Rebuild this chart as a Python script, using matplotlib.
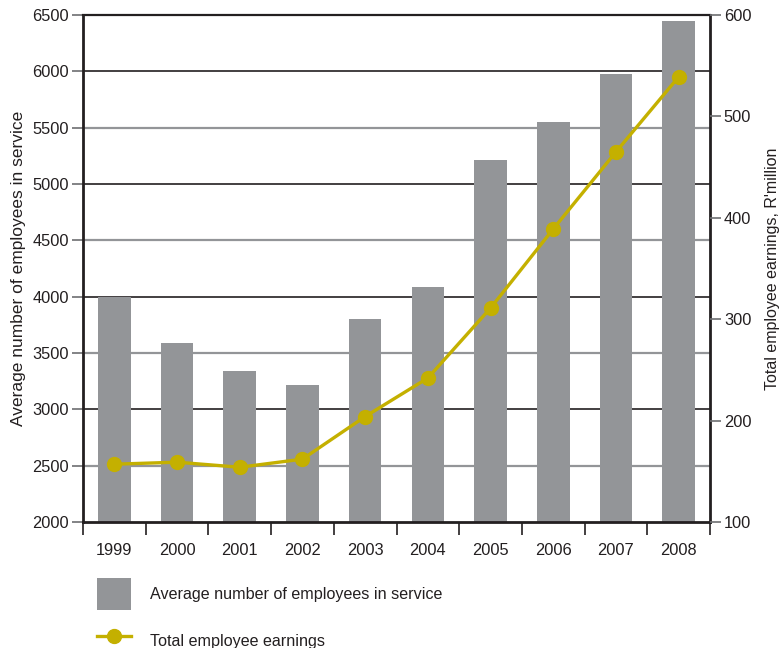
import matplotlib.pyplot as plt
import numpy as np

plt.rcParams['font.family'] = ['Liberation Sans', 'DejaVu Sans']

years = ['1999', '2000', '2001', '2002', '2003', '2004', '2005', '2006', '2007', '2008']
employees = [4000, 3590, 3340, 3215, 3800, 4085, 5210, 5550, 5975, 6445]
earnings = [157, 159, 154, 162, 204, 242, 311, 389, 465, 539]

dark = '#231f20'
grey = '#939598'
gold = '#c4b000'

fig = plt.figure(figsize=(7.81, 6.48), dpi=100)
ax = fig.add_axes([83/781, 1-522/648, 627/781, 507/648])
x = np.arange(len(years))

# gridlines: dark on the thousands, grey on the halves
for v in range(2500, 6500, 500):
    if v % 1000 == 0:
        ax.axhline(v, color=dark, lw=1.2, zorder=0)
    else:
        ax.axhline(v, color=grey, lw=1.6, zorder=0)

bars = ax.bar(x, employees, width=0.52, color=grey, zorder=2,
              label='Average number of employees in service')
ax.set_xlim(-0.5, len(years) - 0.5)
ax.set_ylim(2000, 6500)
ax.set_yticks(np.arange(2000, 6501, 500))
ax.set_ylabel('Average number of employees in service', fontsize=12.5, color=dark, labelpad=5)

# ticks between categories, labels centred under bars
ax.set_xticks(np.arange(-0.5, len(years)), [])
ax.set_xticks(x, years, minor=True)
ax.tick_params(axis='x', which='major', direction='out', length=9, width=1.2, color=dark)
ax.tick_params(axis='x', which='minor', length=0, pad=15, labelsize=11.8, labelcolor=dark)
ax.tick_params(axis='y', direction='out', length=8, width=1.2, color='#6d6e71',
               labelsize=11.8, labelcolor=dark, pad=2)

for side in ['left', 'right', 'bottom']:
    ax.spines[side].set_linewidth(2)
    ax.spines[side].set_color(dark)
ax.spines['top'].set_linewidth(1.6)
ax.spines['top'].set_color(dark)

ax2 = ax.twinx()
line, = ax2.plot(x, earnings, color=gold, lw=2.4, marker='o', markersize=10,
                 zorder=3, label='Total employee earnings')
ax2.set_ylim(100, 600)
ax2.set_yticks(np.arange(100, 601, 100))
ax2.tick_params(axis='y', direction='out', length=8, width=1.2, color='#6d6e71',
                labelsize=11.8, labelcolor=dark, pad=2)
ax2.set_ylabel("Total employee earnings, R'million", fontsize=11.5, color=dark, labelpad=10)
for s in ax2.spines.values():
    s.set_visible(False)

fig.legend(handles=[bars, line], loc='upper left',
           bbox_to_anchor=(97/781, 1-578/648), frameon=False,
           borderpad=0, borderaxespad=0, fontsize=11.6,
           handlelength=2.1, handleheight=2.7, handletextpad=1.2,
           labelspacing=0.95, numpoints=1, labelcolor=dark)

fig.savefig('out.png', dpi=100)
